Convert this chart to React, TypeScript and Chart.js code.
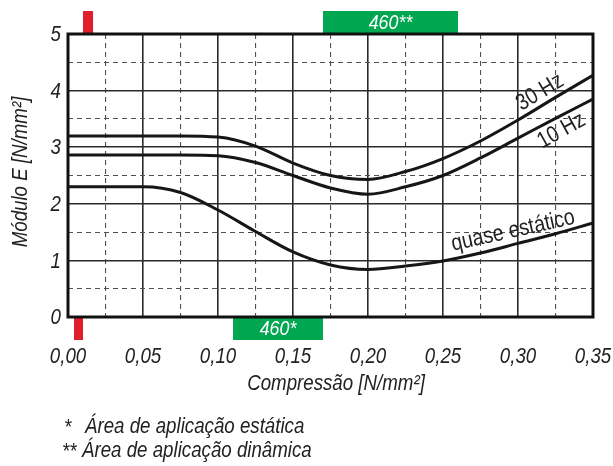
import React, { useEffect, useRef } from 'react';
import { Chart, registerables } from 'chart.js';

Chart.register(...registerables);

// ---- data ----
const compression = [0, 0.025, 0.05, 0.075, 0.1, 0.125, 0.15, 0.175, 0.2, 0.225, 0.25, 0.275, 0.3, 0.325, 0.35];
const hz30 = [3.2, 3.2, 3.2, 3.2, 3.18, 3.02, 2.72, 2.5, 2.43, 2.57, 2.8, 3.11, 3.48, 3.88, 4.27];
const hz10 = [2.86, 2.86, 2.86, 2.86, 2.85, 2.73, 2.5, 2.28, 2.17, 2.3, 2.5, 2.81, 3.16, 3.51, 3.85];
const quaseEstatico = [2.3, 2.3, 2.3, 2.2, 1.89, 1.51, 1.15, 0.92, 0.84, 0.9, 0.99, 1.13, 1.3, 1.47, 1.66];

const xMin = 0;
const xMax = 0.35;
const xStep = 0.025;
const yMin = 0;
const yMax = 5;
const yStep = 0.5;

// application-area bands (x ranges)
const staticArea = { from: 0.11, to: 0.17, label: '460*' };
const dynamicArea = { from: 0.17, to: 0.26, label: '460**' };
const redTop = { from: 0.01, to: 0.0167 };
const redBottom = { from: 0.004, to: 0.01 };

const curveLabels = [
  { text: '30 Hz', x: 0.3147, y: 3.97, angle: -31 },
  { text: '10 Hz', x: 0.329, y: 3.29, angle: -29 },
  { text: 'quase estático', x: 0.2967, y: 1.52, angle: -12.5 },
];

const xTitle = 'Compressão [N/mm²]';
const yTitle = 'Módulo E [N/mm²]';
const footnoteMarks = ['*', '**'];
const footnotes = ['Área de aplicação estática', 'Área de aplicação dinâmica'];

const FONT = "'Liberation Sans', Arial, sans-serif";
const SX = 0.85; // horizontal condensation
const TEXT = '#222222';
const RED = '#e01f2a';
const GREEN = '#00a650';

const isMajorX = (v: number) => Math.abs(v * 20 - Math.round(v * 20)) < 1e-6;
const isMajorY = (v: number) => Math.abs(v - Math.round(v)) < 1e-6;

function drawText(
  ctx: CanvasRenderingContext2D,
  text: string,
  x: number,
  y: number,
  o: { size: number; italic?: boolean; align?: CanvasTextAlign; angle?: number; color?: string }
) {
  ctx.save();
  ctx.translate(x, y);
  if (o.angle) ctx.rotate((o.angle * Math.PI) / 180);
  ctx.scale(SX, 1);
  ctx.font = `${o.italic ? 'italic ' : ''}${o.size}px ${FONT}`;
  ctx.fillStyle = o.color || TEXT;
  ctx.textAlign = o.align || 'center';
  ctx.textBaseline = 'middle';
  ctx.fillText(text, 0, 0);
  ctx.restore();
}

const overlayPlugin = {
  id: 'overlay',
  afterDraw(chart: any) {
    const { ctx, chartArea } = chart;
    const xs = chart.scales.x;
    const ys = chart.scales.y;
    const { left, right, top, bottom } = chartArea;
    const bandH = 23;
    ctx.save();

    // bands
    const band = (r: { from: number; to: number }, y0: number, color: string, label?: string) => {
      const x0 = xs.getPixelForValue(r.from);
      const x1 = xs.getPixelForValue(r.to);
      ctx.fillStyle = color;
      ctx.fillRect(x0, y0, x1 - x0, bandH);
      if (label) {
        drawText(ctx, label, (x0 + x1) / 2, y0 + bandH / 2 + 1, { size: 21, italic: true, color: '#ffffff' });
      }
    };
    band(redTop, top - bandH, RED);
    band(redBottom, bottom, RED);
    band(dynamicArea, top - bandH, GREEN, dynamicArea.label);
    band(staticArea, bottom, GREEN, staticArea.label);

    // frame
    ctx.strokeStyle = '#111111';
    ctx.lineWidth = 3;
    ctx.strokeRect(left, top, right - left, bottom - top);

    // tick labels (from the library's ticks)
    for (const t of xs.ticks) {
      if (!isMajorX(t.value)) continue;
      drawText(ctx, t.value.toFixed(2).replace('.', ','), xs.getPixelForValue(t.value), bottom + 40, {
        size: 22,
        italic: true,
      });
    }
    for (const t of ys.ticks) {
      if (!isMajorY(t.value)) continue;
      drawText(ctx, String(Math.round(t.value)), left - 7, ys.getPixelForValue(t.value) + 1, {
        size: 22,
        italic: true,
        align: 'right',
      });
    }

    // curve labels
    for (const l of curveLabels) {
      drawText(ctx, l.text, xs.getPixelForValue(l.x), ys.getPixelForValue(l.y), { size: 23, angle: l.angle });
    }

    // axis titles
    drawText(ctx, xTitle, 336, 384, { size: 22, italic: true });
    drawText(ctx, yTitle, 21, 172, { size: 22, italic: true, angle: -90 });

    // footnotes
    drawText(ctx, footnoteMarks[0], 64, 428, { size: 22, italic: true, align: 'left' });
    drawText(ctx, footnotes[0], 85, 427, { size: 22, italic: true, align: 'left' });
    drawText(ctx, footnoteMarks[1], 62, 452, { size: 22, italic: true, align: 'left' });
    drawText(ctx, footnotes[1], 82, 451, { size: 22, italic: true, align: 'left' });

    ctx.restore();
  },
};

export default function App() {
  const ref = useRef<HTMLCanvasElement | null>(null);

  useEffect(() => {
    document.body.style.margin = '0';
    if (!ref.current) return;
    const mk = (vals: number[]) => compression.map((x, i) => ({ x, y: vals[i] }));
    const ds = (label: string, vals: number[]) => ({
      label,
      data: mk(vals),
      borderColor: '#161616',
      borderWidth: 3,
      pointRadius: 0,
      fill: false,
      cubicInterpolationMode: 'monotone' as const,
    });
    const chart = new Chart(ref.current, {
      type: 'line',
      data: {
        datasets: [ds('30 Hz', hz30), ds('10 Hz', hz10), ds('quase estático', quaseEstatico)],
      },
      options: {
        animation: false,
        responsive: true,
        maintainAspectRatio: false,
        layout: { padding: { left: 0, top: 34, right: 20, bottom: 0 } },
        plugins: { legend: { display: false }, tooltip: { enabled: false } },
        scales: {
          x: {
            type: 'linear',
            min: xMin,
            max: xMax,
            afterFit: (s: any) => {
              s.height = 149;
              s.paddingLeft = 0;
              s.paddingRight = 0;
            },
            ticks: { stepSize: xStep, autoSkip: false, display: false },
            grid: {
              drawTicks: false,
              color: (c: any) => (isMajorX(c.tick.value) ? '#2a2a2a' : '#505050'),
              lineWidth: (c: any) => (isMajorX(c.tick.value) ? 1.6 : 1.1),
            },
            border: {
              display: false,
              dash: (c: any) => (c.tick && isMajorX(c.tick.value) ? [] : [5, 4]),
            },
          },
          y: {
            type: 'linear',
            min: yMin,
            max: yMax,
            afterFit: (s: any) => {
              s.width = 68;
              s.paddingTop = 0;
              s.paddingBottom = 0;
            },
            ticks: { stepSize: yStep, autoSkip: false, display: false },
            grid: {
              drawTicks: false,
              color: (c: any) => (isMajorY(c.tick.value) ? '#2a2a2a' : '#505050'),
              lineWidth: (c: any) => (isMajorY(c.tick.value) ? 1.6 : 1.1),
            },
            border: {
              display: false,
              dash: (c: any) => (c.tick && isMajorY(c.tick.value) ? [] : [5, 4]),
            },
          },
        },
      },
      plugins: [overlayPlugin],
    });
    return () => chart.destroy();
  }, []);

  return (
    <div style={{ position: 'absolute', left: 0, top: 0, width: 613, height: 466, background: '#fff' }}>
      <canvas ref={ref} />
    </div>
  );
}
